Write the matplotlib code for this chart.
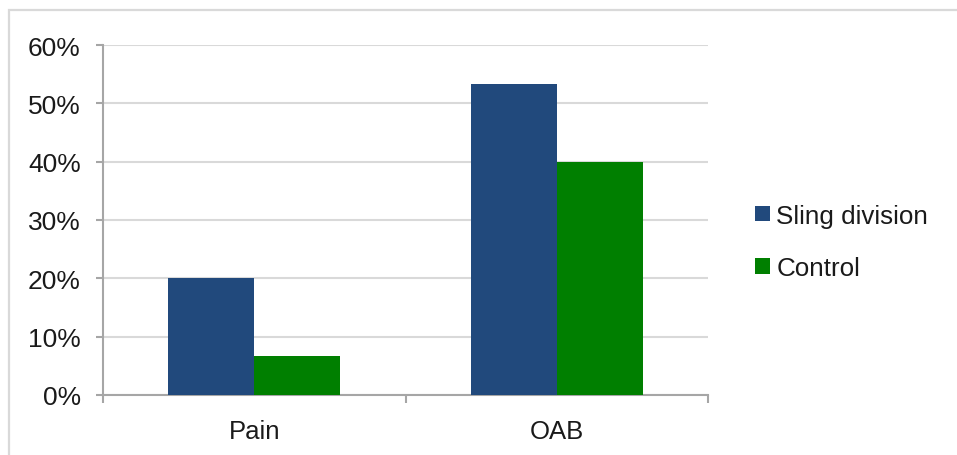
import matplotlib.pyplot as plt
from matplotlib.patches import Rectangle
from matplotlib.ticker import FixedLocator, PercentFormatter
import numpy as np

plt.rcParams['font.family'] = ['Liberation Sans', 'DejaVu Sans']

categories = ['Pain', 'OAB']
sling_division = [20.0, 53.3]
control = [6.7, 40.0]
series_names = ['Sling division', 'Control']
colors = ['#21497C', '#007F00']

W, H = 957, 456
fig = plt.figure(figsize=(W / 100, H / 100), dpi=100, facecolor='white')

# light frame around the chart area (open on right and bottom)
fig.patches.append(Rectangle((9 / W, -0.2), 1.2, 1.2 - 11 / H,
                             transform=fig.transFigure, fill=False,
                             edgecolor='#D9D9D9', linewidth=1.6, zorder=0))

ax = fig.add_axes([103 / W, (H - 396) / H, (708 - 103) / W, (396 - 46) / H])

x = np.arange(len(categories))
width = 0.285
ax.bar(x - width / 2, sling_division, width, color=colors[0],
       label=series_names[0], zorder=3)
ax.bar(x + width / 2, control, width, color=colors[1],
       label=series_names[1], zorder=3)

ax.set_xlim(-0.5, len(categories) - 0.5)
ax.set_ylim(0, 60)
ax.set_yticks(np.arange(0, 61, 10))
ax.yaxis.set_major_formatter(PercentFormatter(decimals=0))
ax.grid(axis='y', color='#D9D9D9', linewidth=1.5, zorder=0)
ax.set_axisbelow(True)

ax.set_xticks(x)
ax.set_xticklabels(categories)
ax.xaxis.set_minor_locator(FixedLocator(np.arange(-0.5, len(categories), 1.0)))

for side in ['top', 'right']:
    ax.spines[side].set_visible(False)
for side in ['left', 'bottom']:
    ax.spines[side].set_color('#A6A6A6')
    ax.spines[side].set_linewidth(1.5)

ax.tick_params(axis='y', length=5, width=1.5, color='#A6A6A6', pad=11,
               labelsize=19, labelcolor='#1A1A1A')
ax.tick_params(axis='x', which='major', length=0, pad=17.5,
               labelsize=18.5, labelcolor='#1A1A1A')
ax.tick_params(axis='x', which='minor', length=6, width=1.5, color='#A6A6A6')

fig.legend(loc='center left', bbox_to_anchor=(732 / W, (H - 243) / H),
           frameon=False, fontsize=18.7, handlelength=0.55, handleheight=0.55,
           handletextpad=0.25, labelspacing=1.1, labelcolor='#1A1A1A')

fig.savefig('out.png', dpi=100, facecolor='white')
